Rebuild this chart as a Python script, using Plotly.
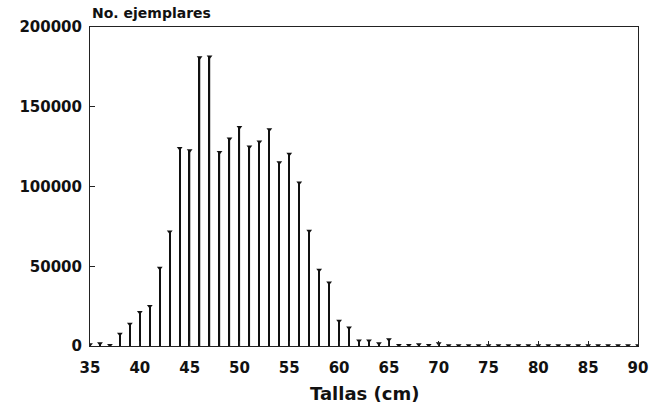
import plotly.graph_objects as go

tallas = list(range(35, 91))
ejemplares = [
    1000, 1500, 500, 7500, 13800, 21100, 25000, 48900, 71700, 124000,
    122500, 180800, 181400, 121400, 130000, 137100, 125000, 128100, 135800, 115000,
    120400, 102400, 72100, 47700, 39700, 15700, 11500, 3300, 3300, 1500,
    4000, 500, 500, 1000, 500, 1500, 300, 300, 300, 300,
    300, 300, 300, 300, 300, 300, 300, 300, 300, 300,
    300, 300, 300, 300, 300, 300,
]
xticks = [35, 40, 45, 50, 55, 60, 65, 70, 75, 80, 85, 90]
yticks = [0, 50000, 100000, 150000, 200000]

FONT = "DejaVu Sans, sans-serif"

fig = go.Figure()
fig.add_trace(go.Bar(x=tallas, y=ejemplares, width=0.13,
                     marker=dict(color="#111", line=dict(width=0))))
fig.add_trace(go.Scatter(x=tallas, y=ejemplares, mode="markers",
                         marker=dict(symbol="triangle-down", size=5, color="#111")))

fig.update_layout(
    width=655, height=412,
    margin=dict(l=90, r=17, t=27, b=66, autoexpand=False),
    paper_bgcolor="white", plot_bgcolor="white",
    showlegend=False,
    font=dict(family=FONT, color="#111"),
    xaxis=dict(range=[35, 90], tickvals=xticks, ticktext=[str(v) for v in xticks],
               showgrid=False, zeroline=False, showline=True, linecolor="#222",
               linewidth=1, mirror=True, ticks="inside", ticklen=5, tickcolor="#222",
               ticklabelstandoff=8, automargin=False,
               tickfont=dict(size=15, family=FONT, weight="bold")),
    yaxis=dict(range=[0, 200000], tickvals=yticks, ticktext=[str(v) for v in yticks],
               showgrid=False, zeroline=False, showline=True, linecolor="#222",
               linewidth=1, mirror=True, ticks="inside", ticklen=5, tickcolor="#222",
               ticklabelstandoff=4, automargin=False,
               tickfont=dict(size=15, family=FONT, weight="bold")),
    annotations=[
        dict(text="No. ejemplares", xref="paper", yref="paper", x=0, y=1,
             xanchor="left", yanchor="middle", yshift=14, showarrow=False,
             font=dict(size=14, family=FONT, weight="bold")),
        dict(text="Tallas (cm)", xref="paper", yref="paper", x=0.5, y=0,
             xanchor="center", yanchor="middle", yshift=-47, showarrow=False,
             font=dict(size=18, family=FONT, weight="bold")),
    ],
)

fig.write_html("out.html", config={"displayModeBar": False},
               post_script="document.body.style.margin='0';")
